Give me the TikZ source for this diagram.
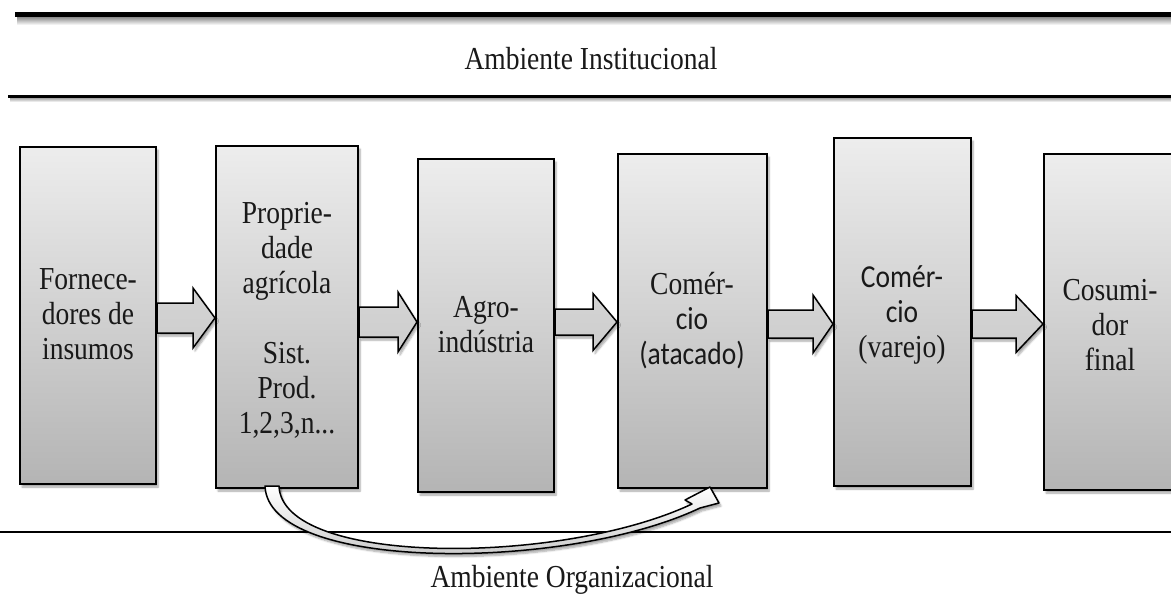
\documentclass[tikz,border=0pt]{standalone}
\usepackage{fontspec}
\setmainfont[FakeStretch=0.86]{Liberation Serif}
\newfontfamily\carlito[FakeStretch=0.86]{Carlito}
\usetikzlibrary{calc,shadows.blur}

\definecolor{boxtop}{HTML}{EDEDED}
\definecolor{boxbottom}{HTML}{B4B4B4}
\definecolor{arrowtop}{HTML}{D4D4D4}
\definecolor{arrowmid}{HTML}{EFEFEF}
\definecolor{arrowbottom}{HTML}{CDCDCD}

\tikzset{
  softshadow/.style={blur shadow={shadow xshift=2pt, shadow yshift=-3pt,
      shadow blur steps=6, shadow opacity=35}},
  stage/.style={draw=black, line width=2pt, shading=axis,
      top color=boxtop, bottom color=boxbottom, softshadow},
  stagetext/.style={align=center, inner sep=0pt, text=black!90,
      font=\fontsize{32}{35}\selectfont},
  envtext/.style={inner sep=0pt, text=black!90, font=\fontsize{32}{35}\selectfont},
  blockarrow/.style={draw=black, line width=1.5pt, line join=miter,
      shading=axis, top color=arrowtop, middle color=arrowmid,
      bottom color=arrowbottom, softshadow},
  curvearrow/.style={draw=black, line width=1.5pt, line join=round,
      shading=axis, top color=white, bottom color=black!25, softshadow},
}

% flat block arrow: from node, to node, axis y, shaft half width,
% head half width, head length
\newcommand\flowarrow[6]{%
  \path[blockarrow]
    ($(#1.east |- 0,#3)+(0,-#4)$)
    -- ($(#2.west |- 0,#3)+(-#6,-#4)$)
    -- ($(#2.west |- 0,#3)+(-#6,-#5)$)
    -- (#2.west |- 0,#3)
    -- ($(#2.west |- 0,#3)+(-#6,#5)$)
    -- ($(#2.west |- 0,#3)+(-#6,#4)$)
    -- ($(#1.east |- 0,#3)+(0,#4)$)
    -- cycle;}

\begin{document}
\begin{tikzpicture}[x=1pt,y=-1pt]
\useasboundingbox (0,0) rectangle (1171,599);
\clip (0,0) rectangle (1171,599);

% environment borders
\shade[top color=black!45, bottom color=white] (17,17) rectangle (1171,25);
\draw[line width=5pt] (15,14.5) -- (1171,14.5);
\shade[top color=black!35, bottom color=white] (10,98) rectangle (1171,102);
\draw[line width=3pt] (8,96.5) -- (1171,96.5);
\draw[line width=2pt] (0,532) -- (1171,532);

\node[envtext] (inst) at (591,59) {Ambiente Institucional};
\node[envtext] (org) at (572,580) {Ambiente Organizacional};

% chain stages
\node[stage, minimum width=136, minimum height=337] (b1) at (88,315.5) {};
\node[stage, minimum width=142, minimum height=342] (b2) at (287,317) {};
\node[stage, minimum width=136, minimum height=333] (b3) at (486,325.5) {};
\node[stage, minimum width=149, minimum height=334] (b4) at (692.5,321) {};
\node[stage, minimum width=137, minimum height=348] (b5) at (902.5,312) {};
\node[stage, minimum width=133, minimum height=336] (b6) at (1110.5,322) {};

\node[stagetext] (t1) at (88,314) {Fornece-\\dores de\\insumos};
\node[stagetext] (t2) at (287,320) {Proprie-\\dade\\agrícola\\[35pt]Sist.\\Prod.\\1,2,3,n...};
\node[stagetext] (t3) at (486,325) {Agro-\\indústria};
\node[stagetext] (t4) at (692,321) {Comér-\\{\carlito cio}\\{\carlito (atacado)}};
\node[stagetext] (t5) at (902,315) {{\carlito Comér-}\\{\carlito cio}\\(varejo)};
\node[stagetext] (t6) at (1110,325) {Cosumi-\\dor\\final};

% flow between stages
\flowarrow{b1}{b2}{318}{15}{30}{22}
\flowarrow{b2}{b3}{322}{15}{30}{19}
\flowarrow{b3}{b4}{322}{13}{28.5}{24}
\flowarrow{b4}{b5}{324}{14}{29}{20}
\flowarrow{b5}{b6}{324}{14}{28.5}{27}

% direct link from the farm to the wholesale trade
\coordinate (ca) at ($(b2.south)+(-22,-3)$);
\coordinate (cb) at ($(b2.south)+(-8,-3)$);
\coordinate (ctip) at ($(b4.south)+(17.5,-2)$);
\path[curvearrow] (ca) .. controls (268,572) and (565,572) .. (700,508)
  -- (719,503) -- (ctip) -- (685,500) -- (692,504)
  .. controls (560,566) and (282,566) .. (cb) -- cycle;
\end{tikzpicture}
\end{document}
